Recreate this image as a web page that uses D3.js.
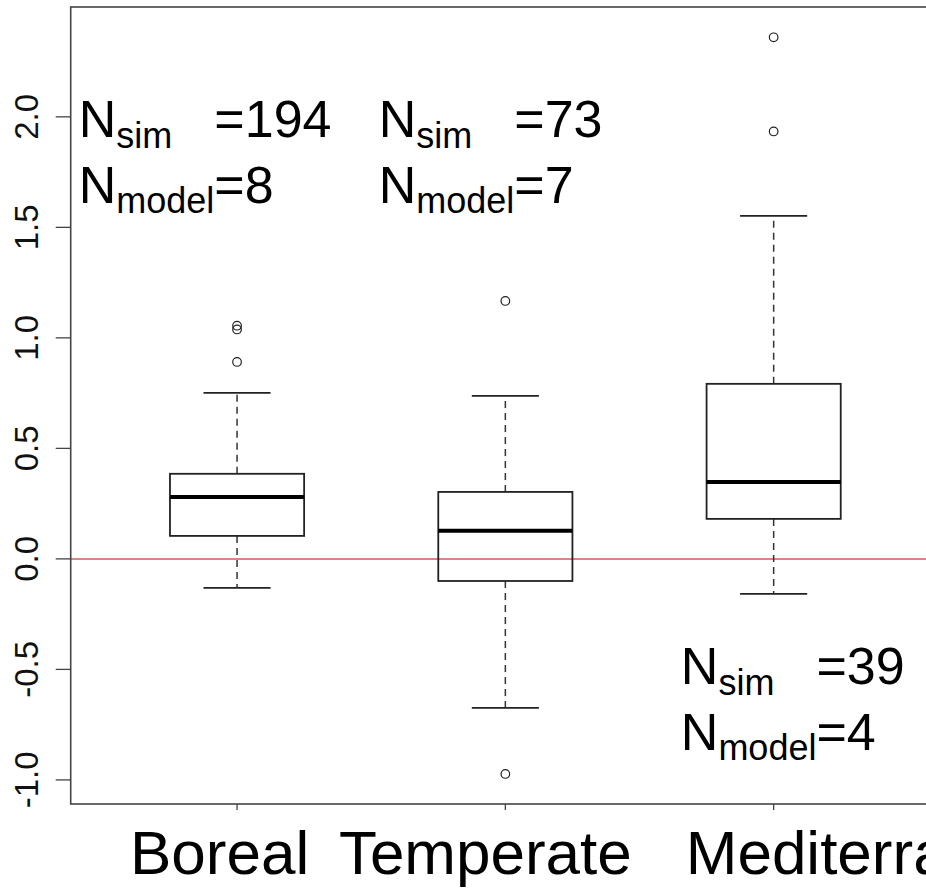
<!DOCTYPE html>
<html>
<head>
<meta charset="utf-8">
<script src="https://cdn.jsdelivr.net/npm/d3@7"></script>
<style>
  body { margin: 0; background: #fff; }
  svg { display: block; font-family: "Liberation Sans", Arial, sans-serif; }
</style>
</head>
<body>
<div id="chart"></div>
<script>
// biome classes
var categories = ["Boreal", "Temperate", "Mediterranean"];

// five number summaries
var lowerWhisker = [-0.131, -0.674, -0.158];
var q1 = [0.104, -0.100, 0.181];
var median = [0.280, 0.127, 0.348];
var q3 = [0.385, 0.303, 0.792];
var upperWhisker = [0.751, 0.738, 1.552];
var outliers = [
	[0.891, 1.038, 1.055],
	[1.167, -0.973],
	[1.934, 2.360]
];

// sample sizes
var nSim = [194, 73, 39];
var nModel = [8, 7, 4];

var yTicks = [-1.0, -0.5, 0.0, 0.5, 1.0, 1.5, 2.0];

var width = 926, height = 893;

var svg = d3.select("#chart").append("svg")
	.attr("width", width)
	.attr("height", height);

// R style: xlim = c(0.5, 3.5) stretched by 4%
var x = d3.scaleLinear().domain([0.38, 3.62]).range([70.7, 940]);
var y = d3.scaleLinear().domain([-1.109, 2.497]).range([804, 7]);

var boxHalf = 0.25, capHalf = 0.125;

// reference line at zero
svg.append("line")
	.attr("x1", x(0.38)).attr("x2", x(3.62))
	.attr("y1", y(0)).attr("y2", y(0))
	.style("stroke", "#d05a5a")
	.style("stroke-width", 1.5);

var data = categories.map(function(c, i) {
	return { name: c, i: i + 1, lw: lowerWhisker[i], q1: q1[i], med: median[i], q3: q3[i], uw: upperWhisker[i], out: outliers[i] };
});

var boxes = svg.selectAll(".box")
	.data(data)
	.enter().append("g")
	.attr("class", "box");

// dashed whiskers
boxes.append("line")
	.attr("x1", function(d) { return x(d.i); })
	.attr("x2", function(d) { return x(d.i); })
	.attr("y1", function(d) { return y(d.q3); })
	.attr("y2", function(d) { return y(d.uw); })
	.style("stroke", "#333").style("stroke-width", 1.5).style("stroke-dasharray", "7,5");
boxes.append("line")
	.attr("x1", function(d) { return x(d.i); })
	.attr("x2", function(d) { return x(d.i); })
	.attr("y1", function(d) { return y(d.q1); })
	.attr("y2", function(d) { return y(d.lw); })
	.style("stroke", "#333").style("stroke-width", 1.5).style("stroke-dasharray", "7,5");

// caps
["uw", "lw"].forEach(function(k) {
	boxes.append("line")
		.attr("x1", function(d) { return x(d.i - capHalf); })
		.attr("x2", function(d) { return x(d.i + capHalf); })
		.attr("y1", function(d) { return y(d[k]); })
		.attr("y2", function(d) { return y(d[k]); })
		.style("stroke", "#222").style("stroke-width", 1.8);
});

boxes.append("rect")
	.attr("x", function(d) { return x(d.i - boxHalf); })
	.attr("width", function(d) { return x(d.i + boxHalf) - x(d.i - boxHalf); })
	.attr("y", function(d) { return y(d.q3); })
	.attr("height", function(d) { return y(d.q1) - y(d.q3); })
	.style("fill", "none").style("stroke", "#222").style("stroke-width", 1.8);

boxes.append("line")
	.attr("x1", function(d) { return x(d.i - boxHalf); })
	.attr("x2", function(d) { return x(d.i + boxHalf); })
	.attr("y1", function(d) { return y(d.med); })
	.attr("y2", function(d) { return y(d.med); })
	.style("stroke", "#000").style("stroke-width", 4);

boxes.selectAll(".out")
	.data(function(d) { return d.out.map(function(v) { return { i: d.i, v: v }; }); })
	.enter().append("circle")
	.attr("class", "out")
	.attr("cx", function(d) { return x(d.i); })
	.attr("cy", function(d) { return y(d.v); })
	.attr("r", 4.3)
	.style("fill", "none").style("stroke", "#222").style("stroke-width", 1.2);

// plot frame
svg.append("rect")
	.attr("x", x(0.38)).attr("y", y(2.497))
	.attr("width", x(3.62) - x(0.38))
	.attr("height", y(-1.109) - y(2.497))
	.style("fill", "none").style("stroke", "#444").style("stroke-width", 1.6);

// y axis, labels rotated like R's las=0
var yAxis = svg.append("g");
yAxis.selectAll(".tick")
	.data(yTicks)
	.enter().append("line")
	.attr("x1", x(0.38) - 15).attr("x2", x(0.38))
	.attr("y1", function(d) { return y(d); })
	.attr("y2", function(d) { return y(d); })
	.style("stroke", "#444").style("stroke-width", 1.3);
yAxis.selectAll(".lab")
	.data(yTicks)
	.enter().append("text")
	.attr("transform", function(d) { return "translate(38," + y(d) + ") rotate(-90)"; })
	.attr("text-anchor", "middle")
	.style("font-size", "33px")
	.style("fill", "#111")
	.text(function(d) { return d.toFixed(1); });

// x ticks
svg.selectAll(".xtick")
	.data(data)
	.enter().append("line")
	.attr("x1", function(d) { return x(d.i); })
	.attr("x2", function(d) { return x(d.i); })
	.attr("y1", y(-1.109)).attr("y2", y(-1.109) + 6)
	.style("stroke", "#444").style("stroke-width", 1.3);

// category labels (shifted as in the original figure)
var labelShift = [-17.5, -20, 112];
svg.selectAll(".xlab")
	.data(data)
	.enter().append("text")
	.attr("x", function(d, i) { return x(d.i) + labelShift[i]; })
	.attr("y", 874)
	.attr("text-anchor", "middle")
	.style("font-size", "62px")
	.style("fill", "#000")
	.text(function(d) { return d.name; });

// N annotations, anchored in data units
var annX = [0.41, 1.528, 2.654];
var annY = [1.909, 1.909, -0.566];
var bigSize = 52, smallSize = 36, lineGap = 66;

categories.forEach(function(c, i) {
	var g = svg.append("g").attr("transform", "translate(" + x(annX[i]) + "," + y(annY[i]) + ")");

	var t2 = g.append("text").attr("x", 0).attr("y", lineGap).style("fill", "#000");
	t2.append("tspan").style("font-size", bigSize + "px").text("N");
	t2.append("tspan").attr("dy", 10).style("font-size", smallSize + "px").text("model");
	t2.append("tspan").attr("dy", -10).style("font-size", bigSize + "px").text("=" + nModel[i]);

	var eqX = t2.node().getStartPositionOfChar(6).x;

	var t1 = g.append("text").attr("x", 0).attr("y", 0).style("fill", "#000");
	t1.append("tspan").style("font-size", bigSize + "px").text("N");
	t1.append("tspan").attr("dy", 11).style("font-size", smallSize + "px").text("sim");
	t1.append("tspan").attr("x", eqX).attr("dy", -11).style("font-size", bigSize + "px").text("=" + nSim[i]);
});
</script>
</body>
</html>
